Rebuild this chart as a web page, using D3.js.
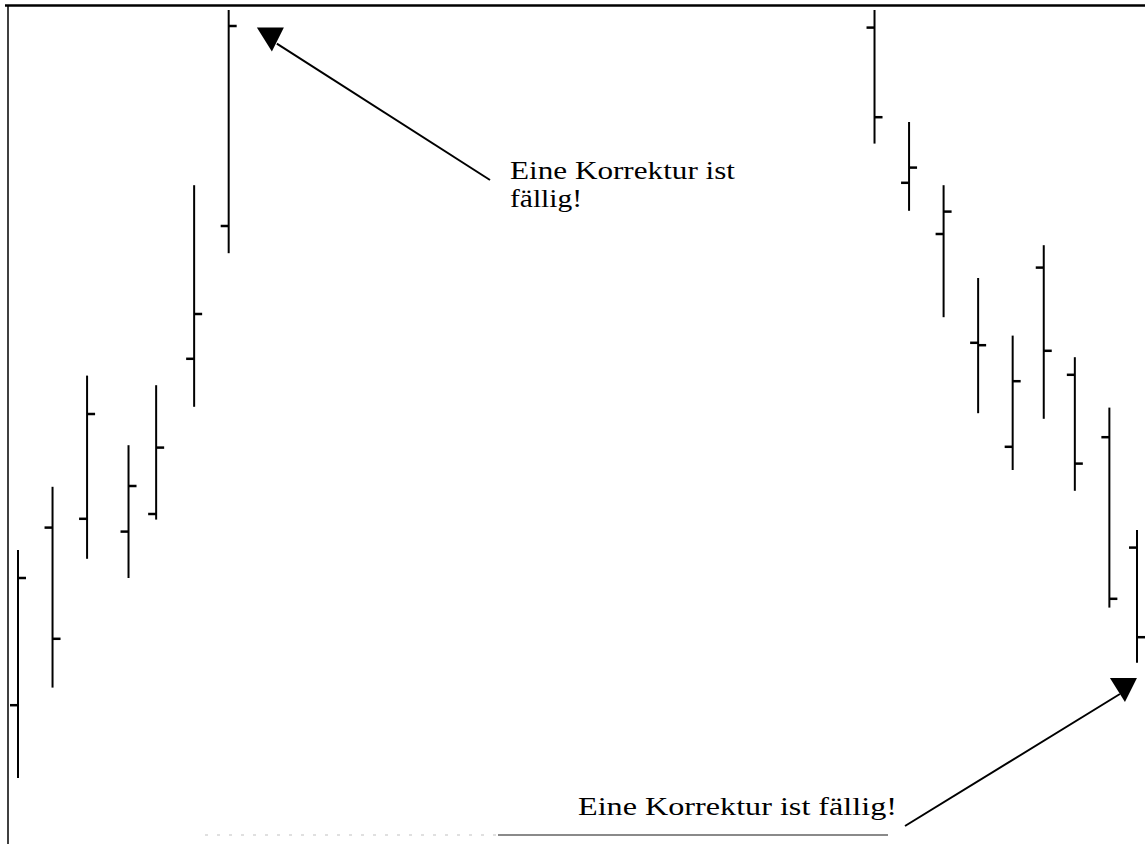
<!DOCTYPE html>
<html>
<head>
<meta charset="utf-8">
<script src="https://cdn.jsdelivr.net/npm/d3@7"></script>
<style>
  html, body { margin: 0; padding: 0; background: #fff; }
  svg { display: block; }
</style>
</head>
<body>
<svg id="chart" width="1145" height="844"></svg>
<script>
// Trading sessions (day numbers) and OHLC prices for each bar
const days   = [0, 1, 2, 3.2, 4, 5.1, 6.1, 24.8, 25.8, 26.8, 27.8, 28.8, 29.7, 30.6, 31.6, 32.4];
const highs  = [32.5, 40.4, 54.3, 45.6, 53.1, 78.1, 100.0, 100.0, 86.0, 78.1, 66.5, 59.3, 70.6, 56.6, 50.3, 35.0];
const lows   = [4.0, 15.3, 31.4, 29.0, 36.3, 50.4, 69.6, 83.3, 74.9, 61.6, 49.6, 42.5, 48.9, 39.9, 25.3, 18.4];
const opens  = [13.1, 35.3, 36.4, 34.8, 37.0, 56.4, 73.0, 97.8, 78.4, 72.0, 58.4, 45.4, 67.8, 54.4, 46.6, 32.8];
const closes = [29.0, 21.4, 49.5, 40.5, 45.3, 62.0, 98.0, 86.6, 80.3, 74.8, 58.1, 53.6, 57.4, 43.3, 26.4, 21.6];

// Annotations: label lines and the point the arrow marks (day, price)
const noteTopLines  = ["Eine Korrektur ist", "fällig!"];
const noteTopTarget = [7.35, 94.8];
const noteBottomText   = "Eine Korrektur ist fällig!";
const noteBottomTarget = [32.05, 13.5];

const bars = days.map((d, i) => ({ day: d, high: highs[i], low: lows[i], open: opens[i], close: closes[i] }));

const svg = d3.select("#chart");
const x = d3.scaleLinear().domain([0, 32.4]).range([18, 1137]);
const y = d3.scaleLinear().domain([0, 100]).range([810, 10]);

// Frame
svg.append("line").attr("x1", 5).attr("x2", 1145).attr("y1", 5.5).attr("y2", 5.5)
  .attr("stroke", "#000").attr("stroke-width", 2.5);
svg.append("line").attr("x1", 8).attr("x2", 8).attr("y1", 5).attr("y2", 844)
  .attr("stroke", "#000").attr("stroke-width", 1.5);
svg.append("line").attr("x1", 205).attr("x2", 498).attr("y1", 835).attr("y2", 835)
  .attr("stroke", "#d6d6d6").attr("stroke-width", 1.5).attr("stroke-dasharray", "3 9");
svg.append("line").attr("x1", 498).attr("x2", 888).attr("y1", 835).attr("y2", 835)
  .attr("stroke", "#8a8a8a").attr("stroke-width", 2);

// OHLC bars
const g = svg.append("g").attr("stroke", "#000");
const bar = g.selectAll("g.bar").data(bars).join("g").attr("class", "bar");
bar.append("line")
  .attr("x1", d => x(d.day)).attr("x2", d => x(d.day))
  .attr("y1", d => y(d.high)).attr("y2", d => y(d.low))
  .attr("stroke-width", 2);
bar.append("line")
  .attr("x1", d => x(d.day) - 8).attr("x2", d => x(d.day))
  .attr("y1", d => y(d.open)).attr("y2", d => y(d.open))
  .attr("stroke-width", 2.5);
bar.append("line")
  .attr("x1", d => x(d.day)).attr("x2", d => x(d.day) + 8)
  .attr("y1", d => y(d.close)).attr("y2", d => y(d.close))
  .attr("stroke-width", 2.5);

// Arrow helper: line from label to a down-pointing filled triangle
function arrow(fromX, fromY, target) {
  const tx = x(target[0]), ty = y(target[1]);
  svg.append("line")
    .attr("x1", fromX).attr("y1", fromY)
    .attr("x2", tx + (fromX > tx ? 5 : -5)).attr("y2", ty - 8)
    .attr("stroke", "#000").attr("stroke-width", 2);
  svg.append("path")
    .attr("d", `M${tx - 15},${ty - 24} L${tx + 12},${ty - 24} L${tx},${ty} Z`)
    .attr("fill", "#000");
}

arrow(490, 180, noteTopTarget);
arrow(905, 826, noteBottomTarget);

// Labels
const font = "'Liberation Serif', 'Times New Roman', serif";
function label(tx, ty, len, str) {
  svg.append("text").attr("x", tx).attr("y", ty)
    .attr("font-family", font).attr("font-size", 25).attr("fill", "#000")
    .attr("textLength", len).attr("lengthAdjust", "spacingAndGlyphs")
    .text(str);
}
label(510, 179, 225, noteTopLines[0]);
label(510, 207, 72, noteTopLines[1]);
label(578, 815, 319, noteBottomText);
</script>
</body>
</html>
